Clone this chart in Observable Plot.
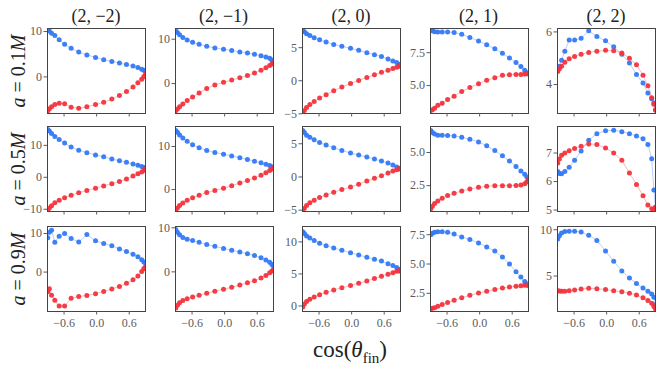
<!DOCTYPE html>
<html><head><meta charset="utf-8">
<script src="https://cdn.jsdelivr.net/npm/d3@7"></script>
<script src="https://cdn.jsdelivr.net/npm/@observablehq/plot@0.6"></script>
<style>
body{margin:0;background:#fff;}
#chart{position:relative;width:664px;height:371px;overflow:hidden;font-family:"Liberation Serif","DejaVu Serif",serif;background:#fff;}
.t{position:absolute;white-space:nowrap;color:#222;line-height:1;}
.panel{position:absolute;}
.panel text{font-family:"Liberation Serif","DejaVu Serif",serif !important;}
</style></head><body><div id="chart"></div>
<script>
// x values: cos(theta_fin)
const cosTheta = [-0.9, -0.87, -0.83, -0.77, -0.69, -0.59, -0.47, -0.33, -0.18, -0.02, 0.13, 0.28, 0.42, 0.55, 0.67, 0.76, 0.83, 0.87, 0.9];
const modeLabels = ["(2, \u22122)", "(2, \u22121)", "(2, 0)", "(2, 1)", "(2, 2)"];
const spinLabels = ["0.1", "0.5", "0.9"];
const xTicks = [-0.6, 0.0, 0.6];

// blue series, one array per mode (2,-2)..(2,2)
const blueA01 = [
  [10.4, 10.1, 9.6, 9.1, 8.2, 7.2, 6.3, 5.5, 4.85, 4.3, 3.8, 3.4, 3.05, 2.75, 2.4, 2.05, 1.7, 1.45, 1.25],
  [11.9, 11.5, 11.0, 10.4, 9.85, 9.3, 8.85, 8.4, 8.05, 7.75, 7.45, 7.15, 6.9, 6.6, 6.3, 6.0, 5.7, 5.3, 4.9],
  [7.6, 7.4, 7.1, 6.85, 6.5, 6.2, 5.85, 5.5, 5.2, 4.9, 4.6, 4.25, 3.95, 3.65, 3.3, 3.0, 2.75, 2.5, 2.3],
  [9.18, 9.16, 9.1, 9.08, 9.08, 9.08, 9.03, 8.9, 8.65, 8.39, 8.1, 7.8, 7.45, 7.1, 6.75, 6.45, 6.17, 5.97, 5.88],
  [4.57, 4.7, 4.92, 5.27, 5.69, 5.69, 5.76, 6.04, 5.83, 5.66, 5.44, 5.15, 4.82, 4.38, 4.06, 3.68, 3.46, 3.3, 3.04]
];
const redA01 = [
  [-7.5, -7.0, -6.6, -6.1, -5.8, -5.9, -6.7, -6.9, -6.6, -6.1, -5.6, -4.9, -4.1, -3.2, -2.2, -1.3, -0.5, 0.1, 0.6],
  [-6.1, -5.7, -5.2, -4.6, -3.8, -3.0, -2.1, -1.1, -0.3, 0.3, 0.8, 1.3, 1.8, 2.4, 3.0, 3.6, 4.1, 4.4, 4.7],
  [-4.9, -4.5, -4.05, -3.6, -3.15, -2.6, -2.1, -1.5, -0.95, -0.4, 0.05, 0.5, 0.9, 1.3, 1.6, 1.85, 2.05, 2.2, 2.35],
  [3.1, 3.16, 3.28, 3.5, 3.65, 3.95, 4.2, 4.55, 4.85, 5.15, 5.4, 5.6, 5.78, 5.83, 5.84, 5.85, 5.88, 5.9, 5.95],
  [4.5, 4.6, 4.7, 4.85, 4.98, 5.07, 5.15, 5.22, 5.27, 5.3, 5.28, 5.2, 5.0, 4.75, 4.35, 3.95, 3.5, 3.25, 3.02]
];
const blueA05 = [
  [15.0, 14.5, 13.7, 12.8, 11.8, 10.7, 9.5, 8.5, 7.7, 7.0, 6.4, 5.7, 5.2, 4.7, 4.2, 3.8, 3.4, 3.1, 2.9],
  [13.7, 13.3, 12.7, 12.0, 11.2, 10.4, 9.7, 9.1, 8.6, 8.2, 7.8, 7.4, 7.0, 6.6, 6.2, 5.9, 5.6, 5.3, 5.1],
  [7.0, 6.7, 6.3, 6.0, 5.6, 5.2, 4.8, 4.4, 4.0, 3.6, 3.3, 3.0, 2.7, 2.4, 2.1, 1.8, 1.5, 1.3, 1.2],
  [6.65, 6.5, 6.4, 6.3, 6.3, 6.28, 6.25, 6.15, 6.0, 5.8, 5.5, 5.15, 4.75, 4.35, 3.95, 3.6, 3.35, 3.15, 2.95],
  [6.35, 6.28, 6.27, 6.35, 6.5, 6.75, 7.07, 7.45, 7.68, 7.78, 7.8, 7.75, 7.68, 7.6, 7.5, 7.3, 6.8, 5.7, 5.1]
];
const redA05 = [
  [-10.2, -9.6, -8.9, -8.0, -7.2, -6.4, -5.6, -4.8, -4.1, -3.4, -2.7, -2.0, -1.3, -0.5, 0.4, 1.1, 1.7, 2.2, 2.6],
  [-4.7, -4.3, -3.7, -3.1, -2.5, -1.9, -1.3, -0.7, -0.2, 0.3, 0.9, 1.5, 2.1, 2.7, 3.3, 3.9, 4.4, 4.8, 5.1],
  [-5.0, -4.7, -4.3, -3.9, -3.5, -3.1, -2.7, -2.3, -1.9, -1.5, -1.1, -0.6, -0.2, 0.2, 0.6, 0.9, 1.1, 1.25, 1.3],
  [0.75, 0.95, 1.15, 1.35, 1.55, 1.75, 1.92, 2.1, 2.25, 2.37, 2.45, 2.5, 2.5, 2.5, 2.52, 2.55, 2.65, 2.8, 3.0],
  [6.65, 6.79, 6.92, 7.0, 7.08, 7.16, 7.24, 7.32, 7.3, 7.18, 7.0, 6.75, 6.3, 5.9, 5.5, 5.18, 5.05, 5.03, 5.1]
];
const blueA09 = [
  [8.9, 10.3, 10.8, 7.7, 9.3, 10.0, 8.7, 7.8, 9.75, 8.1, 7.4, 6.8, 6.0, 5.35, 4.65, 3.95, 3.2, 2.6, 2.2],
  [9.6, 9.0, 8.4, 7.8, 7.4, 7.1, 6.7, 6.2, 5.8, 5.3, 4.9, 4.5, 4.1, 3.7, 3.2, 2.7, 2.2, 1.7, 1.2],
  [11.6, 11.3, 10.9, 10.6, 10.2, 9.8, 9.4, 9.05, 8.7, 8.3, 7.95, 7.6, 7.3, 7.0, 6.6, 6.3, 6.0, 5.7, 5.4],
  [7.5, 7.63, 7.72, 7.75, 7.75, 7.7, 7.55, 7.3, 7.1, 6.8, 6.45, 6.1, 5.6, 5.0, 4.35, 3.9, 3.5, 3.3, 3.15],
  [9.0, 9.35, 9.65, 9.8, 9.85, 9.85, 9.75, 9.4, 8.85, 7.7, 6.6, 5.55, 4.8, 4.2, 3.7, 3.35, 3.05, 2.7, 1.9]
];
const redA09 = [
  [-5.1, -4.3, -6.0, -7.3, -8.8, -8.8, -6.8, -6.3, -6.05, -5.6, -5.0, -4.35, -3.7, -2.9, -2.0, -1.0, 0.15, 0.9, 1.3],
  [-8.2, -7.6, -7.0, -6.5, -6.1, -5.7, -5.3, -4.85, -4.4, -3.95, -3.5, -3.0, -2.5, -2.0, -1.4, -0.8, -0.2, 0.2, 0.5],
  [-0.15, 0.3, 0.7, 1.05, 1.4, 1.75, 2.15, 2.5, 2.85, 3.2, 3.55, 3.9, 4.3, 4.65, 4.95, 5.2, 5.4, 5.5, 5.6],
  [1.2, 1.22, 1.28, 1.4, 1.55, 1.72, 1.9, 2.12, 2.33, 2.53, 2.68, 2.83, 2.95, 3.05, 3.1, 3.15, 3.18, 3.2, 3.2],
  [3.4, 3.38, 3.35, 3.37, 3.4, 3.5, 3.6, 3.68, 3.62, 3.55, 3.4, 3.3, 3.15, 2.95, 2.65, 2.35, 2.05, 1.7, 1.45]
];

// y-axis ranges and tick values per spin row / mode column
const yDomainsA01 = [[-8.07, 10.67], [-6.74, 12.42], [-4.95, 7.9], [2.88, 9.34], [2.9, 6.13]];
const yDomainsA05 = [[-10.7, 15.9], [-5.1, 14.65], [-5.2, 7.6], [0.55, 6.96], [4.95, 7.93]];
const yDomainsA09 = [[-10.2, 11.8], [-9.0, 10.3], [-0.86, 12.4], [0.95, 8.2], [1.17, 10.35]];
const yTicksA01 = [[0, 10], [0, 10], [-5, 0, 5], [5.0, 7.5], [4, 6]];
const yTicksA05 = [[-10, 0, 10], [0, 10], [-5, 0, 5], [2.5, 5.0], [5, 6, 7]];
const yTicksA09 = [[0, 10], [0, 10], [0, 5, 10], [2.5, 5.0, 7.5], [5, 10]];

const blues = [blueA01, blueA05, blueA09];
const reds = [redA01, redA05, redA09];
const yDomains = [yDomainsA01, yDomainsA05, yDomainsA09];
const yTicks = [yTicksA01, yTicksA05, yTicksA09];

// layout
const BLUE = "#3479f4", RED = "#f3343d";
const FONT = "Liberation Serif, DejaVu Serif, serif";
const panelLefts = [47, 174.5, 302, 429.5, 557];
const panelTops = [28, 126, 226];
const PW = 98, PH = 85;
const mL = 34, mR = 4, mT = 4, mB = 24;

const chart = document.getElementById("chart");

for (let r = 0; r < 3; r++) {
  for (let c = 0; c < 5; c++) {
    const blueData = cosTheta.map((x, i) => ({x, y: blues[r][c][i]}));
    const redData = cosTheta.map((x, i) => ({x, y: reds[r][c][i]}));
    const fmt = c === 3 ? d3.format(".1f") : d3.format("d");
    const bottom = r === 2;
    const svg = Plot.plot({
      width: PW + mL + mR,
      height: PH + mT + mB,
      marginLeft: mL, marginRight: mR, marginTop: mT, marginBottom: mB,
      style: {background: "transparent", overflow: "visible", fontFamily: FONT, fontSize: "12px", color: "#5a5a5a"},
      x: {domain: [-0.905, 0.9]},
      y: {domain: yDomains[r][c]},
      marks: [
        Plot.line(blueData, {x: "x", y: "y", stroke: BLUE, strokeWidth: 0.7, strokeOpacity: 0.5, clip: true}),
        Plot.dot(blueData, {x: "x", y: "y", r: 2.5, fill: BLUE, fillOpacity: 0.95, clip: true}),
        Plot.line(redData, {x: "x", y: "y", stroke: RED, strokeWidth: 0.7, strokeOpacity: 0.5, clip: true}),
        Plot.dot(redData, {x: "x", y: "y", r: 2.5, fill: RED, fillOpacity: 0.95, clip: true}),
        Plot.frame({stroke: "#444", strokeWidth: 1}),
        Plot.axisY({ticks: yTicks[r][c], tickFormat: fmt, tickSize: 3.5, tickPadding: 2, label: null, stroke: "#5a5a5a", fill: "#5a5a5a", fontFamily: FONT}),
        Plot.axisX({ticks: xTicks, tickFormat: bottom ? d3.format(".1f") : () => "", tickSize: 3.5, tickPadding: 3, label: null, stroke: "#5a5a5a", fill: "#5a5a5a", fontFamily: FONT})
      ]
    });
    svg.classList.add("panel");
    svg.style.left = (panelLefts[c] - mL) + "px";
    svg.style.top = (panelTops[r] - mT) + "px";
    chart.appendChild(svg);
  }
}

// column titles
modeLabels.forEach((lab, c) => {
  const d = document.createElement("div");
  d.className = "t";
  d.style.fontSize = "18px";
  d.style.left = (panelLefts[c] + PW / 2) + "px";
  d.style.top = "7px";
  d.style.transform = "translateX(-50%)";
  d.textContent = lab;
  chart.appendChild(d);
});

// row labels
spinLabels.forEach((s, r) => {
  const d = document.createElement("div");
  d.className = "t";
  d.style.fontSize = "20px";
  d.style.left = "18px";
  d.style.top = (panelTops[r] + PH / 2) + "px";
  d.style.transform = "translate(-50%, -50%) rotate(-90deg)";
  d.innerHTML = "<i>a</i> = " + s + "<i>M</i>";
  chart.appendChild(d);
});

// x label
const xl = document.createElement("div");
xl.className = "t";
xl.style.fontSize = "23px";
xl.style.left = "350px";
xl.style.top = "338px";
xl.style.transform = "translateX(-50%)";
xl.innerHTML = "cos(<i>&theta;</i><sub style=\"font-size:15px\">fin</sub>)";
chart.appendChild(xl);
</script>
</body></html>
